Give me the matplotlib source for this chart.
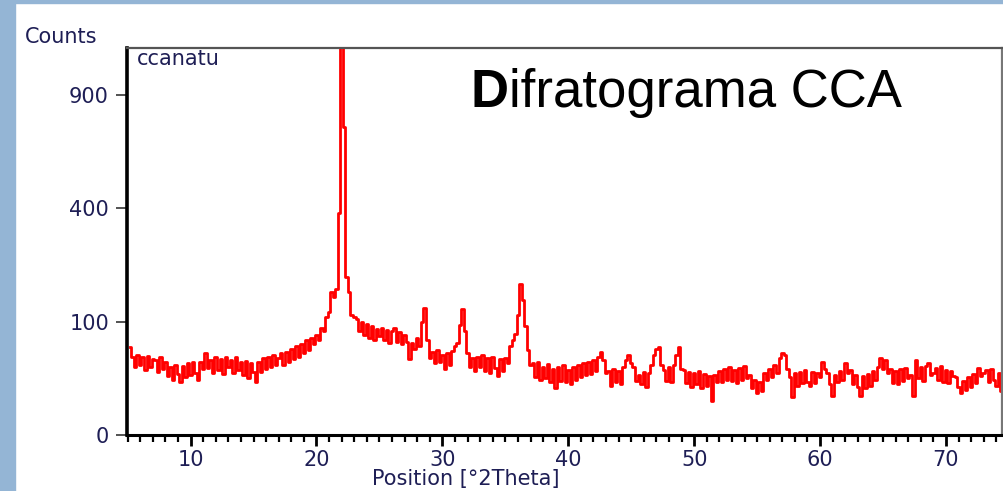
import numpy as np
import matplotlib.pyplot as plt
from matplotlib.patches import Rectangle
from matplotlib.ticker import FixedLocator, MultipleLocator

# XRD scan (counts every 0.2 deg 2theta from 5.2)
start_angle = 5.2
step_angle = 0.2
counts = [
    60, 48, 36, 50, 38, 47, 33, 49, 36, 45,      # 5.2 - 7.0
    44, 31, 48, 34, 42, 27, 36, 24, 38, 29,      # 7.2 - 9.0
    22, 37, 26, 40, 28, 42, 30, 24, 41, 34,      # 9.2 - 11.0
    52, 35, 44, 30, 47, 33, 45, 29, 48, 36,      # 11.2 - 13.0
    44, 30, 47, 33, 41, 28, 43, 25, 40, 31,      # 13.2 - 15.0
    22, 42, 31, 46, 34, 48, 36, 50, 38, 46,      # 15.2 - 17.0
    52, 38, 54, 42, 58, 45, 62, 48, 64, 52,      # 17.2 - 19.0
    70, 56, 74, 64, 78, 70, 90, 84, 108, 118,    # 19.2 - 21.0
    160, 148, 165, 384, 1400, 740, 194, 160, 112, 108,  # 21.2 - 23.0
    104, 84, 100, 78, 96, 74, 92, 70, 88, 76,    # 23.2 - 25.0
    90, 70, 86, 66, 84, 90, 68, 82, 64, 78,      # 25.2 - 27.0
    68, 45, 66, 58, 74, 62, 100, 126, 70, 46,    # 27.2 - 29.0
    54, 40, 56, 42, 50, 34, 52, 38, 55, 62,      # 29.2 - 31.0
    66, 94, 124, 84, 52, 36, 46, 32, 48, 36,     # 31.2 - 33.0
    50, 32, 46, 30, 48, 35, 27, 45, 32, 46,      # 33.2 - 35.0
    40, 62, 70, 80, 112, 178, 142, 92, 56, 38,   # 35.2 - 37.0
    40, 26, 42, 24, 36, 25, 39, 22, 34, 17,      # 37.2 - 39.0
    36, 23, 38, 22, 33, 20, 36, 24, 38, 26,      # 39.2 - 41.0
    40, 28, 42, 29, 44, 32, 48, 54, 44, 30,      # 41.2 - 43.0
    32, 19, 34, 22, 32, 20, 36, 44, 50, 40,      # 43.2 - 45.0
    36, 23, 28, 20, 31, 18, 30, 38, 50, 58,      # 45.2 - 47.0
    60, 38, 33, 23, 36, 22, 38, 50, 60, 34,      # 47.2 - 49.0
    33, 21, 31, 18, 30, 20, 32, 17, 29, 19,      # 49.2 - 51.0
    27, 9, 28, 22, 32, 22, 34, 24, 36, 23,       # 51.2 - 53.0
    33, 21, 35, 24, 37, 25, 28, 17, 24, 14,      # 53.2 - 55.0
    22, 15, 30, 24, 34, 26, 38, 30, 46, 52,      # 55.2 - 57.0
    50, 34, 26, 11, 30, 19, 31, 21, 33, 22,      # 57.2 - 59.0
    19, 31, 21, 30, 26, 42, 34, 30, 20, 12,      # 59.2 - 61.0
    28, 22, 32, 24, 40, 30, 33, 20, 28, 18,      # 61.2 - 63.0
    12, 27, 17, 29, 19, 32, 24, 36, 46, 34,      # 63.2 - 65.0
    44, 30, 34, 21, 32, 20, 34, 23, 35, 25,      # 65.2 - 67.0
    28, 12, 44, 25, 36, 23, 37, 40, 28, 30,      # 67.2 - 69.0
    35, 24, 37, 22, 33, 21, 32, 27, 26, 18,      # 69.2 - 71.0
    14, 23, 16, 26, 18, 29, 21, 35, 27, 30,      # 71.2 - 73.0
    33, 22, 34, 24, 19, 30, 15, 11,              # 73.2 - 74.6
]
two_theta = start_angle + step_angle * np.arange(len(counts))

y_ticks = [0, 100, 400, 900]
x_ticks = [10, 20, 30, 40, 50, 60, 70]

text_color = '#1e1e55'
W, H = 1004, 491

fig = plt.figure(figsize=(W / 100, H / 100), dpi=100)
fig.patch.set_facecolor('white')
# light blue slide border (left and top)
fig.patches.append(Rectangle((0, 0), 15 / W, 1, transform=fig.transFigure,
                             color='#94b5d5', zorder=0))
fig.patches.append(Rectangle((0, 1 - 3 / H), 1, 3 / H, transform=fig.transFigure,
                             color='#94b5d5', zorder=0))

ax = fig.add_axes([127 / W, 1 - 435 / H, (1002 - 127) / W, (435 - 48) / H])
ax.plot(two_theta, counts, color='#ff0000', lw=2.0, drawstyle='steps-mid')

# square-root intensity axis, as in the instrument software
ax.set_yscale('function', functions=(lambda v: np.sqrt(np.clip(v, 0, None)), np.square))
ax.set_ylim(0, 1167)
ax.set_xlim(4.95, 74.45)

ax.yaxis.set_major_locator(FixedLocator(y_ticks))
ax.yaxis.set_minor_locator(FixedLocator([]))
ax.xaxis.set_major_locator(FixedLocator(x_ticks))
ax.xaxis.set_minor_locator(MultipleLocator(1))

ax.tick_params(axis='y', which='major', direction='out', length=8, width=1.3,
               color='#444444', pad=5, labelsize=15, labelcolor=text_color)
ax.tick_params(axis='x', which='major', direction='out', length=8, width=2,
               color='black', pad=3, labelsize=15, labelcolor=text_color)
ax.tick_params(axis='x', which='minor', direction='out', length=5, width=1.6,
               color='black')

ax.spines['left'].set_linewidth(2.6)
ax.spines['left'].set_color('black')
ax.spines['bottom'].set_linewidth(2.2)
ax.spines['bottom'].set_color('black')
ax.spines['top'].set_linewidth(1.6)
ax.spines['top'].set_color('#555555')
ax.spines['right'].set_linewidth(1.6)
ax.spines['right'].set_color('#777777')

fig.text(25 / W, 1 - 43 / H, 'Counts', fontsize=15,
         color=text_color, ha='left', va='baseline')
fig.text(137 / W, 1 - 65 / H, 'ccanatu', fontsize=15,
         color=text_color, ha='left', va='baseline')
fig.text(466 / W, 1 - 485 / H, 'Position [°2Theta]', fontsize=15,
         color=text_color, ha='center', va='baseline')

# title with bold first letter
title_x, title_y = 471 / W, 1 - 107 / H
t1 = fig.text(title_x, title_y, 'D', fontsize=38, fontweight='bold',
              family='Liberation Sans', ha='left', va='baseline')
fig.canvas.draw()
bb = t1.get_window_extent()
fig.text(bb.x1 / fig.bbox.width, title_y, 'ifratograma CCA', fontsize=38,
         family='Liberation Sans', ha='left', va='baseline')

fig.savefig('out.png', dpi=100)
